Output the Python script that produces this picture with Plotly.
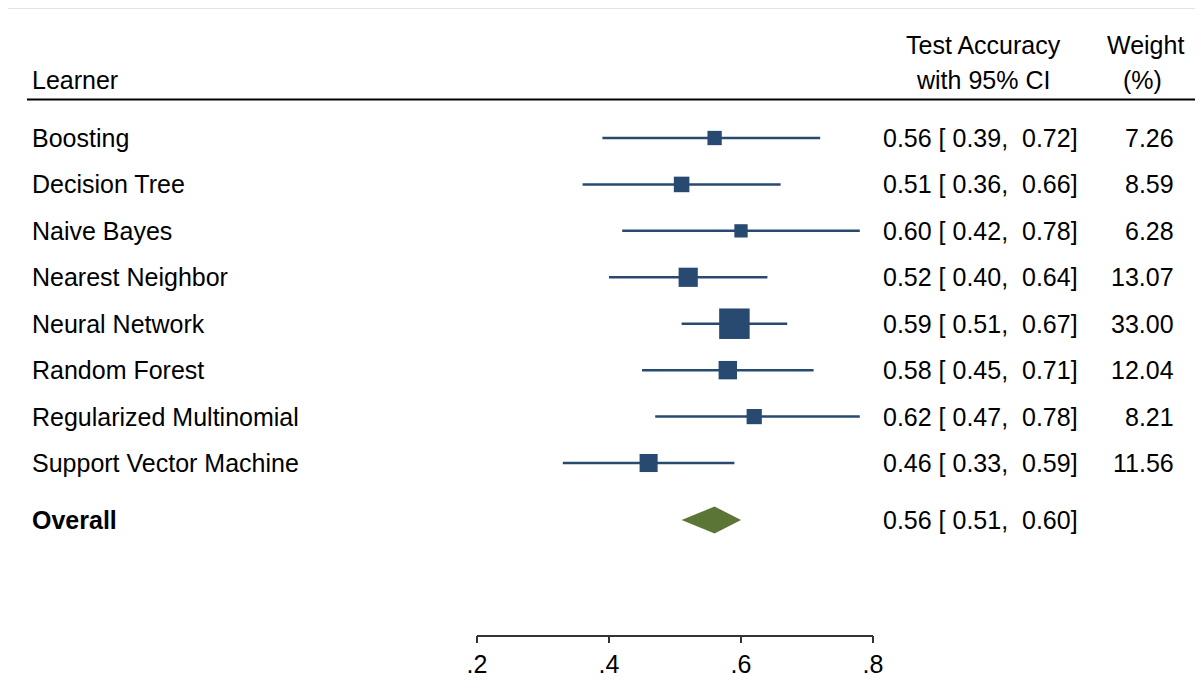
import plotly.graph_objects as go
import math

learners = ["Boosting", "Decision Tree", "Naive Bayes", "Nearest Neighbor",
            "Neural Network", "Random Forest", "Regularized Multinomial",
            "Support Vector Machine"]
est = [0.56, 0.51, 0.60, 0.52, 0.59, 0.58, 0.62, 0.46]
lo = [0.39, 0.36, 0.42, 0.40, 0.51, 0.45, 0.47, 0.33]
hi = [0.72, 0.66, 0.78, 0.64, 0.67, 0.71, 0.78, 0.59]
weights = [7.26, 8.59, 6.28, 13.07, 33.00, 12.04, 8.21, 11.56]
overall_label = "Overall"
overall = [0.56, 0.51, 0.60]  # estimate, lower, upper
tick_vals = [0.2, 0.4, 0.6, 0.8]
tick_text = [".2", ".4", ".6", ".8"]

OFF = 8  # page body margin
W, H = 1203 - OFF, 700 - OFF
BLUE = "#284a70"
GREEN = "#5b7536"
FONT = "Liberation Sans, Arial, Helvetica, sans-serif"
FS = 25

# helpers mapping reference pixel positions to figure coordinates
row0_px, row_step = 138, 46.43
def ypx(p):
    return (p - row0_px) / row_step
def px_x(p):
    return (p - OFF) / W
def paper_y(p):
    return 1 - (p - OFF) / H

rows = list(range(len(learners)))
overall_y = ypx(520)

fig = go.Figure()

max_w = max(weights)
sizes = [30.5 * math.sqrt(w / max_w) for w in weights]
fig.add_trace(go.Scatter(
    x=est, y=rows, mode="markers",
    marker=dict(symbol="square", size=sizes, color=BLUE, opacity=1, line=dict(width=0)),
    error_x=dict(type="data", symmetric=False,
                 array=[h - e for h, e in zip(hi, est)],
                 arrayminus=[e - l for e, l in zip(est, lo)],
                 width=0, thickness=2.5, color=BLUE),
    hoverinfo="skip", showlegend=False, cliponaxis=False))

oe, ol, oh = overall
dh = 13.5 / row_step
fig.add_trace(go.Scatter(
    x=[ol, oe, oh, oe, ol],
    y=[overall_y, overall_y - dh, overall_y, overall_y + dh, overall_y],
    mode="lines", fill="toself", fillcolor=GREEN, line=dict(width=0, color=GREEN),
    hoverinfo="skip", showlegend=False))

ann = []
def text(x_px, y, s, anchor="left", bold=False, yref="y"):
    ann.append(dict(x=px_x(x_px), xref="paper", y=y, yref=yref,
                    text=("<b>%s</b>" % s) if bold else s,
                    showarrow=False, xanchor=anchor, yanchor="middle",
                    borderpad=0, font=dict(family=FONT, size=FS, color="black")))

def ci(e, l, h):
    return "%.2f [\u00a0%.2f,\u00a0\u00a0%.2f]" % (e, l, h)

for i, name in enumerate(learners):
    text(31, i, name)
    text(882, i, ci(est[i], lo[i], hi[i]))
    text(1175, i, "%.2f" % weights[i], anchor="right")

text(31, overall_y, overall_label, bold=True)
text(882, overall_y, ci(*overall))

text(983, paper_y(45), "Test Accuracy", anchor="center", yref="paper")
text(983, paper_y(80), "with 95% CI", anchor="center", yref="paper")
text(1145, paper_y(45), "Weight", anchor="center", yref="paper")
text(1142, paper_y(80), "(%)", anchor="center", yref="paper")
text(31, paper_y(80), "Learner", yref="paper")

shapes = [
    dict(type="line", xref="paper", yref="paper", x0=px_x(27), x1=px_x(1197),
         y0=paper_y(99.5), y1=paper_y(99.5), line=dict(color="black", width=2)),
    dict(type="line", xref="paper", yref="paper", x0=0, x1=1,
         y0=1, y1=1, line=dict(color="#e4e4e4", width=2)),
]

fig.update_layout(
    width=W, height=H,
    margin=dict(l=0, r=0, t=0, b=0, pad=0, autoexpand=False),
    paper_bgcolor="white", plot_bgcolor="white",
    annotations=ann, shapes=shapes,
    xaxis=dict(domain=[px_x(477), px_x(873)], range=[0.2, 0.8], anchor="free",
               position=paper_y(635.5), showgrid=False, zeroline=False,
               showline=True, linecolor="#333333", linewidth=1.5,
               ticks="outside", ticklen=7, tickwidth=1.5, tickcolor="#333333",
               tickvals=tick_vals, ticktext=tick_text, automargin=False,
               tickfont=dict(family=FONT, size=FS, color="black")),
    yaxis=dict(domain=[0, 1], range=[ypx(700), ypx(OFF)], visible=False,
               showgrid=False, zeroline=False, automargin=False),
)

fig.write_html("out.html", config={"displayModeBar": False})
